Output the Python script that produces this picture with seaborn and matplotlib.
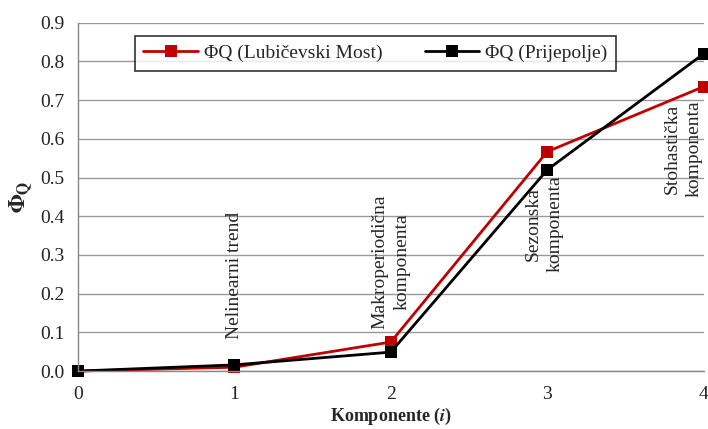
import matplotlib.pyplot as plt
import pandas as pd
import seaborn as sns

# Data
komponente = [0, 1, 2, 3, 4]
phi_lubicevski = [0.0, 0.010, 0.075, 0.567, 0.735]
phi_prijepolje = [0.0, 0.016, 0.049, 0.520, 0.820]
series_names = ["ΦQ (Lubičevski Most)", "ΦQ (Prijepolje)"]
component_labels = ["Nelinearni trend", "Makroperiodična\nkomponenta",
                    "Sezonska\nkomponenta", "Stohastička\nkomponenta"]

df = pd.DataFrame({
    "i": komponente * 2,
    "phi": phi_lubicevski + phi_prijepolje,
    "serija": [series_names[0]] * 5 + [series_names[1]] * 5,
})

sns.set_style("white")
plt.rcParams["font.family"] = ["Liberation Serif", "DejaVu Serif"]
plt.rcParams["mathtext.fontset"] = "stix"

fig, ax = plt.subplots(figsize=(7.08, 4.29), dpi=100)

sns.lineplot(
    data=df, x="i", y="phi", hue="serija",
    palette=["#C00000", "#000000"],
    marker="s", markersize=8, markeredgewidth=0,
    linewidth=2, ax=ax, clip_on=False,
)

ax.set_xlim(0, 4)
ax.set_ylim(0, 0.9)
ax.set_xticks(range(0, 5))
ax.set_yticks([x / 10 for x in range(0, 10)])
ax.set_yticklabels([f"{x / 10:.1f}" for x in range(0, 10)])
ax.tick_params(axis="both", labelsize=14, colors="#222222")
ax.tick_params(axis="x", length=5, width=1, color="#888888", direction="out", pad=6)
ax.tick_params(axis="y", length=6, width=1, color="#888888", direction="out")
ax.yaxis.grid(True, color="#999999", linewidth=1)
ax.set_axisbelow(True)
for side in ["top", "right"]:
    ax.spines[side].set_visible(False)
for side in ["left", "bottom"]:
    ax.spines[side].set_color("#888888")
    ax.spines[side].set_linewidth(1)

ax.set_xlabel(r"Komponente ($\boldsymbol{i}$)", fontsize=13, fontweight="bold", labelpad=2)
ax.set_ylabel(r"$\mathbf{\Phi_Q}$", fontsize=16, labelpad=4)

# rotated component annotations
pos = [(1.0, 0.083), (2.0, 0.11), (2.98, 0.256), (3.87, 0.45)]
for (x, y), label in zip(pos, component_labels):
    ax.text(x, y, label, rotation=90, ha="center", va="bottom",
            multialignment="center", fontsize=14, linespacing=1.35)

leg = ax.legend(loc="upper left", bbox_to_anchor=(0.075, 0.99), ncol=2,
                fontsize=14, frameon=True, fancybox=False, edgecolor="black",
                handlelength=2.8, handletextpad=0.3, columnspacing=2.2,
                borderpad=0.45)
leg.get_frame().set_linewidth(1.2)
leg.set_title(None)

plt.subplots_adjust(left=0.11, right=0.994, top=0.947, bottom=0.135)
fig.savefig("out.png", dpi=100)
